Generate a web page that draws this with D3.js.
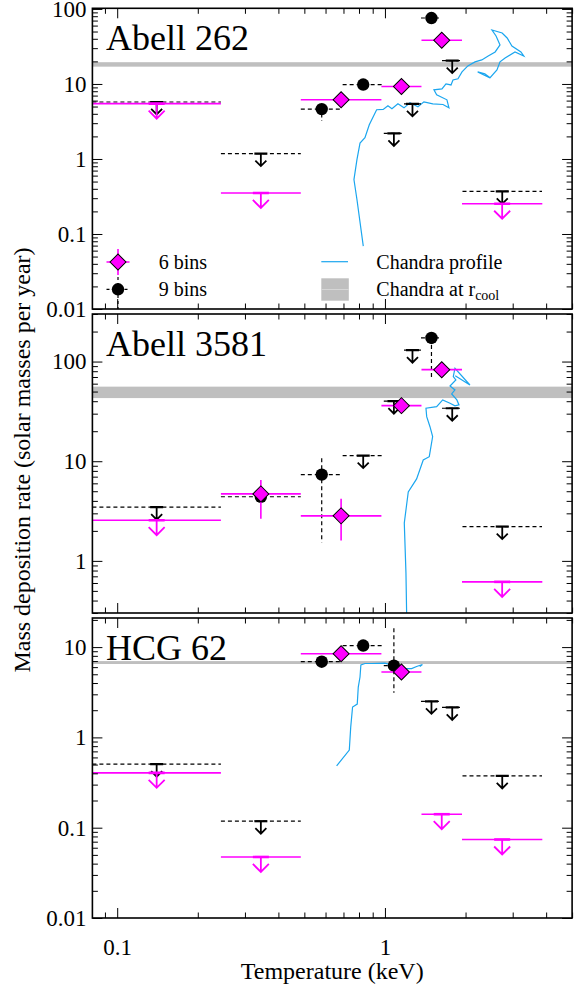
<!DOCTYPE html>
<html>
<head>
<meta charset="utf-8">
<script src="https://cdn.jsdelivr.net/npm/d3@7"></script>
<style>
body { margin: 0; background: #fff; }
svg { display: block; }
svg text { font-family: "Liberation Serif", "Times New Roman", Times, "DejaVu Serif", serif; }
</style>
</head>
<body>
<script>
var clusters = ["Abell 262", "Abell 3581", "HCG 62"];

// temperature bins (keV)
var lo6 = [0.0808, 0.244, 0.485, 0.97, 1.369, 1.94];
var hi6 = [0.244, 0.485, 0.97, 1.369, 1.94, 3.87];
var lo9 = [0.0808, 0.244, 0.485, 0.695, 0.99, 1.178, 1.363, 1.633, 1.948];
var hi9 = [0.244, 0.485, 0.695, 0.99, 1.178, 1.363, 1.633, 1.948, 3.86];

// 6 bins: rates, upper-limit flags, error ranges
var rate6 = [
  [5.46, 0.352, 6.15, 9.23, 38.2, 0.253],
  [2.56, 4.70, 2.83, 36.1, 82.9, 0.616],
  [0.405, 0.0474, 8.45, 5.30, 0.141, 0.074]
];
var limit6 = [
  [1, 1, 0, 0, 0, 1],
  [1, 0, 0, 0, 0, 1],
  [1, 1, 0, 0, 1, 1]
];
var errLo6 = [
  [null, null, null, null, null, null],
  [null, 2.64, 1.6, null, null, null],
  [null, null, null, null, null, null]
];
var errHi6 = [
  [null, null, null, null, null, null],
  [null, 6.49, 4.19, null, null, null],
  [null, null, null, null, null, null]
];

// 9 bins
var rate9 = [
  [5.75, 1.18, 4.62, 9.82, 2.19, 5.44, 75.7, 20.5, 0.371],
  [3.46, 4.4, 7.34, 11.4, 40, 130, 172.5, 34, 2.21],
  [0.506, 0.118, 6.89, 10.4, 6.22, null, 2.51, 2.15, 0.375]
];
var limit9 = [
  [1, 1, 0, 0, 1, 1, 0, 1, 1],
  [1, 0, 0, 1, 1, 1, 0, 1, 1],
  [1, 1, 0, 0, 0, 0, 1, 1, 1]
];
var errLo9 = [
  [null, null, 3.2, null, null, null, null, null, null],
  [null, null, 1.53, null, null, null, 67, null, null],
  [null, null, null, null, 3.12, null, null, null, null]
];
var errHi9 = [
  [null, null, 5.0, null, null, null, null, null, null],
  [null, null, 10.7, null, null, null, 172.5, null, null],
  [null, null, null, null, 16.2, null, null, null, null]
];

// Chandra rate at r_cool (band)
var bandLo = [17, 43, 6.5];
var bandHi = [19.5, 56, 7.0];

// Chandra profiles
var profT = [
  [0.83, 0.786, 0.766, 0.786, 0.807, 0.842, 0.874, 0.931, 0.985, 1.026, 1.062, 1.118, 1.178, 1.24, 1.328, 1.398, 1.51, 1.647, 1.734, 1.704, 1.56, 1.524, 1.633, 1.69, 1.765, 1.795, 1.874, 1.94, 2.04, 2.17, 2.30, 2.43, 2.58, 2.69, 2.60, 2.51, 2.74, 2.86, 2.98, 3.22, 3.30, 3.06, 2.81, 2.69, 2.62, 2.47, 2.36, 2.22, 2.47],
  [1.205, 1.198, 1.181, 1.222, 1.313, 1.39, 1.464, 1.507, 1.473, 1.432, 1.423, 1.56, 1.643, 1.75, 1.826, 1.89, 1.856, 1.775, 1.826, 1.75, 1.84, 1.80, 1.826, 2.077, 1.83],
  [0.66, 0.736, 0.745, 0.757, 0.788, 0.795, 0.807, 0.813, 0.842, 0.892, 1.0, 1.09, 1.188, 1.258, 1.313, 1.38, 1.35]
];
var profRate = [
  [0.069, 0.288, 0.531, 0.979, 1.63, 1.92, 2.86, 4.53, 4.57, 5.11, 4.67, 5.44, 4.8, 5.61, 4.96, 5.78, 5.44, 5.32, 4.8, 6.15, 7.16, 8.35, 8.61, 10.0, 9.7, 11.3, 11.7, 14.5, 17.4, 19.7, 20.9, 23.6, 26.7, 33.1, 43.6, 52.4, 47.8, 41, 32.1, 26.7, 23.6, 26.7, 22.2, 19.7, 15.4, 12.1, 13.7, 14.5, 12.0],
  [0.3, 0.758, 2.40, 4.92, 6.64, 10.3, 11.1, 17.7, 22.2, 28, 34, 35.3, 41.2, 38.2, 35.9, 36.7, 41.2, 47.3, 51.9, 56.9, 65.3, 70.6, 85.7, 58.2, 72],
  [0.484, 0.723, 1.30, 2.17, 2.34, 3.61, 4.66, 6.33, 6.58, 6.58, 6.65, 6.17, 5.79, 5.77, 6.09, 6.41, 6.09]
];

var yDomain = [[0.01, 102], [0.3, 300], [0.01, 21]];
var yTicks = [[0.01, 0.1, 1, 10, 100], [1, 10, 100], [0.01, 0.1, 1, 10]];
var yTickText = [["0.01", "0.1", "1", "10", "100"], ["1", "10", "100"], ["0.01", "0.1", "1", "10"]];
var xDomain = [0.0808, 5];
var xTicks = [0.1, 1];
var xTickText = ["0.1", "1"];

var width = 575, height = 990;
var left = 92.4, right = 572.1;
var panelTop = [8.3, 314, 618];
var panelBottom = [309, 613, 918];
var magenta = "#ff00ff";
var blue = "#1ba6ef";

var svg = d3.select("body").append("svg")
  .attr("width", width)
  .attr("height", height);

var x = d3.scaleLog().domain(xDomain).range([left, right]);

function minorTicks(domain) {
  var t = [];
  for (var e = Math.floor(Math.log10(domain[0])); e <= Math.ceil(Math.log10(domain[1])); e++) {
    for (var k = 2; k < 10; k++) {
      var v = k * Math.pow(10, e);
      if (v >= domain[0] * 0.999 && v <= domain[1] * 1.001) t.push(v);
    }
  }
  return t;
}

function upperLimit(g, cx, cy, color, s) {
  g.append("line")
    .attr("x1", cx - s.cap).attr("x2", cx + s.cap)
    .attr("y1", cy).attr("y2", cy)
    .attr("stroke", color).attr("stroke-width", s.capW);
  g.append("path")
    .attr("d", "M" + cx + "," + cy + "V" + (cy + s.len) +
      "M" + (cx - s.head) + "," + (cy + s.len - s.head) +
      "L" + cx + "," + (cy + s.len) +
      "L" + (cx + s.head) + "," + (cy + s.len - s.head))
    .attr("fill", "none").attr("stroke", color).attr("stroke-width", s.w);
}

var blackLim = { cap: 6.5, capW: 2.2, len: 12.5, head: 5.5, w: 1.8 };
var magLim = { cap: 8, capW: 2.6, len: 15, head: 8, w: 1.8 };

var diamond = d3.symbol().type(d3.symbolSquare).size(128);

clusters.forEach(function (name, i) {
  var top = panelTop[i], bottom = panelBottom[i];
  var y = d3.scaleLog().domain(yDomain[i]).range([bottom, top]);
  var g = svg.append("g");

  svg.append("clipPath").attr("id", "clip" + i)
    .append("rect")
    .attr("x", left).attr("y", top)
    .attr("width", right - left).attr("height", bottom - top);

  var plot = g.append("g").attr("clip-path", "url(#clip" + i + ")");

  plot.append("rect")
    .attr("x", left).attr("width", right - left)
    .attr("y", y(bandHi[i]))
    .attr("height", y(bandLo[i]) - y(bandHi[i]))
    .attr("fill", "#bfbfbf");

  var line = d3.line()
    .x(function (d) { return x(d[0]); })
    .y(function (d) { return y(d[1]); });
  plot.append("path")
    .datum(d3.zip(profT[i], profRate[i]))
    .attr("d", line)
    .attr("fill", "none")
    .attr("stroke", blue)
    .attr("stroke-width", 1.2);

  // 9 bins (black)
  rate9[i].forEach(function (v, j) {
    if (v == null) return;
    var cx = x(Math.sqrt(lo9[j] * hi9[j])), cy = y(v);
    plot.append("line")
      .attr("x1", x(lo9[j])).attr("x2", x(hi9[j]))
      .attr("y1", cy).attr("y2", cy)
      .attr("stroke", "#000").attr("stroke-width", 1.2)
      .attr("stroke-dasharray", "4,3");
    if (limit9[i][j]) {
      upperLimit(plot, cx, cy, "#000", blackLim);
    } else {
      if (errLo9[i][j] != null) {
        plot.append("line")
          .attr("x1", cx).attr("x2", cx)
          .attr("y1", y(errHi9[i][j])).attr("y2", y(errLo9[i][j]))
          .attr("stroke", "#000").attr("stroke-width", 1.2)
          .attr("stroke-dasharray", "4,3");
      }
      plot.append("circle")
        .attr("cx", cx).attr("cy", cy).attr("r", 6.2)
        .attr("fill", "#000");
    }
  });

  // 6 bins (magenta)
  rate6[i].forEach(function (v, j) {
    var cx = x(Math.sqrt(lo6[j] * hi6[j])), cy = y(v);
    plot.append("line")
      .attr("x1", x(lo6[j])).attr("x2", x(hi6[j]))
      .attr("y1", cy).attr("y2", cy)
      .attr("stroke", magenta).attr("stroke-width", 1.6);
    if (limit6[i][j]) {
      upperLimit(plot, cx, cy, magenta, magLim);
    } else {
      if (errLo6[i][j] != null) {
        plot.append("line")
          .attr("x1", cx).attr("x2", cx)
          .attr("y1", y(errHi6[i][j])).attr("y2", y(errLo6[i][j]))
          .attr("stroke", magenta).attr("stroke-width", 1.6);
      }
      plot.append("path")
        .attr("d", diamond)
        .attr("transform", "translate(" + cx + "," + cy + ") rotate(45)")
        .attr("fill", magenta)
        .attr("stroke", "#000")
        .attr("stroke-width", 1);
    }
  });

  // axes: major and minor ticks on all four sides
  var yMinor = minorTicks(yDomain[i]);
  var xMinor = minorTicks(xDomain);
  var axes = [
    [d3.axisLeft(y), "translate(" + left + ",0)", yMinor, yTicks[i], true],
    [d3.axisRight(y), "translate(" + right + ",0)", yMinor, yTicks[i], false],
    [d3.axisTop(x), "translate(0," + top + ")", xMinor, xTicks, false],
    [d3.axisBottom(x), "translate(0," + bottom + ")", xMinor, xTicks, i == 2]
  ];
  axes.forEach(function (a, k) {
    var minor = g.append("g").attr("transform", a[1]).call(
      a[0].tickValues(a[2]).tickSize(-5.5).tickSizeOuter(0).tickFormat(""));
    minor.select(".domain").remove();
    var isX = k >= 2;
    var labels = isX ? xTickText : yTickText[i];
    var major = g.append("g").attr("transform", a[1]).call(
      a[0].tickValues(a[3]).tickSize(-10).tickSizeOuter(0)
        .tickPadding(isX ? 21 : 6)
        .tickFormat(function (d, n) { return a[4] ? labels[n] : ""; }));
    major.select(".domain").remove();
    major.attr("font-family", null).attr("font-size", 23);
    major.selectAll("text").attr("fill", "#000");
  });
  g.selectAll("g").attr("font-family", null);
  g.selectAll(".tick line").attr("stroke", "#000").attr("stroke-width", 1);

  g.append("rect")
    .attr("x", left).attr("y", top)
    .attr("width", right - left).attr("height", bottom - top)
    .attr("fill", "none").attr("stroke", "#000").attr("stroke-width", 1.6);

  g.append("text")
    .attr("x", 106).attr("y", top + 41.5)
    .attr("font-size", 36)
    .text(name);
});

// legend (top panel)
var lg = svg.append("g").attr("font-size", 20);
var lx = 118;
lg.append("path")
  .attr("d", "M" + (lx - 11.5) + ",262H" + (lx + 11.5) + "M" + lx + ",249V275")
  .attr("stroke", magenta).attr("stroke-width", 1.6);
lg.append("path")
  .attr("d", diamond)
  .attr("transform", "translate(" + lx + ",262) rotate(45)")
  .attr("fill", magenta).attr("stroke", "#000").attr("stroke-width", 1);
lg.append("text").attr("x", 158.7).attr("y", 268.5).text("6 bins");

lg.append("path")
  .attr("d", "M" + (lx - 11.5) + ",289.3H" + (lx + 11.5) + "M" + lx + ",277V309")
  .attr("stroke", "#000").attr("stroke-width", 1.2).attr("stroke-dasharray", "3,3");
lg.append("circle").attr("cx", lx).attr("cy", 289.3).attr("r", 6.2).attr("fill", "#000");
lg.append("text").attr("x", 158.7).attr("y", 295.5).text("9 bins");

lg.append("line")
  .attr("x1", 321.3).attr("x2", 348).attr("y1", 261.7).attr("y2", 261.7)
  .attr("stroke", blue).attr("stroke-width", 1.2);
lg.append("text").attr("x", 376.3).attr("y", 268.5).text("Chandra profile");

lg.append("rect")
  .attr("x", 321.3).attr("y", 278.3).attr("width", 27.5).attr("height", 22.4)
  .attr("fill", "#bfbfbf");
lg.append("line")
  .attr("x1", 321.3).attr("x2", 348.8).attr("y1", 289.5).attr("y2", 289.5)
  .attr("stroke", "#d6d6d6").attr("stroke-width", 1);
var rc = lg.append("text").attr("x", 376.3).attr("y", 295.5);
rc.append("tspan").text("Chandra at r");
rc.append("tspan").attr("font-size", 14).attr("dy", 4).text("cool");

// axis titles
svg.append("text")
  .attr("transform", "translate(30,460) rotate(-90)")
  .attr("text-anchor", "middle")
  .attr("font-size", 24)
  .text("Mass deposition rate (solar masses per year)");

svg.append("text")
  .attr("x", (left + right) / 2).attr("y", 979)
  .attr("text-anchor", "middle")
  .attr("font-size", 24)
  .text("Temperature (keV)");
</script>
</body>
</html>
